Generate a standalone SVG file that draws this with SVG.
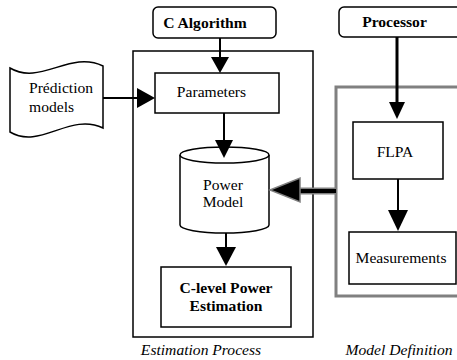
<svg xmlns="http://www.w3.org/2000/svg" width="457" height="360" viewBox="0 0 457 360">
<style>
text{font-family:"Liberation Serif","Times New Roman",serif;font-size:15.6px;fill:#000}
.b{font-weight:bold}
.i{font-style:italic}
.box{fill:#fff;stroke:#000;stroke-width:1.5}
.ln{stroke:#000;stroke-width:2;fill:none}
.hd{fill:#000}
</style>
<rect width="457" height="360" fill="#fff"/>
<g id="estimation-process">
<rect x="133" y="51" width="180" height="286" fill="none" stroke="#000" stroke-width="1.5"/>
<text class="i" x="201" y="355" text-anchor="middle">Estimation Process</text>
</g>
<g id="model-definition">
<path d="M460,87 H336 V296 H460" fill="none" stroke="#808080" stroke-width="3"/>
<text class="i" x="399" y="355" text-anchor="middle">Model Definition</text>
</g>
<g id="c-algorithm">
<rect class="box" x="153" y="7" width="123" height="31" rx="5"/>
<text class="b" x="205" y="28" text-anchor="middle">C Algorithm</text>
</g>
<g id="processor">
<rect class="box" x="339" y="7" width="130" height="30" rx="5"/>
<text class="b" x="394.5" y="27" text-anchor="middle">Processor</text>
</g>
<g id="prediction-models">
<path d="M10,68 C40,86 70,50 103,66 V128 C70,112 40,150 10,132 Z" fill="#fff" stroke="#000" stroke-width="1.5"/>
<text x="29" y="93">Prédiction</text>
<text x="29" y="112">models</text>
</g>
<g id="parameters">
<rect class="box" x="155" y="73" width="124" height="40"/>
<text x="211.5" y="97" text-anchor="middle">Parameters</text>
</g>
<g id="power-model">
<path d="M180,155 V225 A44.5,8 0 0 0 269,225 V155" fill="#fff" stroke="#000" stroke-width="1.5"/>
<ellipse cx="224.5" cy="155" rx="44.5" ry="8" fill="#fff" stroke="#000" stroke-width="1.5"/>
<text x="223" y="190" text-anchor="middle">Power</text>
<text x="223" y="207" text-anchor="middle">Model</text>
</g>
<g id="c-level-power-estimation">
<rect class="box" x="161" y="267" width="130" height="60"/>
<text class="b" x="226" y="293" text-anchor="middle">C-level Power</text>
<text class="b" x="226" y="311" text-anchor="middle">Estimation</text>
</g>
<g id="flpa">
<rect class="box" x="353" y="122" width="90" height="57"/>
<text x="395" y="157" text-anchor="middle">FLPA</text>
</g>
<g id="measurements">
<rect class="box" x="349" y="232" width="107" height="52"/>
<text x="401" y="263" text-anchor="middle">Measurements</text>
</g>
<g id="connectors">
<line class="ln" x1="220" y1="38" x2="220" y2="58"/>
<polygon class="hd" points="211,57 229,57 220,73"/>
<line class="ln" x1="103" y1="98" x2="138" y2="98"/>
<polygon class="hd" points="137,88 137,108 155,98"/>
<line class="ln" x1="224" y1="113" x2="224" y2="142"/>
<polygon class="hd" points="215,140 233,140 224,158"/>
<line class="ln" x1="226" y1="233" x2="226" y2="248"/>
<polygon class="hd" points="216,247 236,247 226,266"/>
<line stroke="#000" stroke-width="3" x1="397" y1="37" x2="397" y2="104"/>
<polygon class="hd" points="389,102 405,102 397,119"/>
<line class="ln" x1="398" y1="179" x2="398" y2="212"/>
<polygon class="hd" points="388,210 408,210 398,231"/>
<line stroke="#808080" stroke-width="7" x1="336" y1="191" x2="298" y2="191"/>
<line stroke="#000" stroke-width="4" x1="336" y1="191" x2="298" y2="191"/>
<polygon points="270,190 300,178 300,202" fill="#000" stroke="#808080" stroke-width="1.5"/>
</g>
</svg>
